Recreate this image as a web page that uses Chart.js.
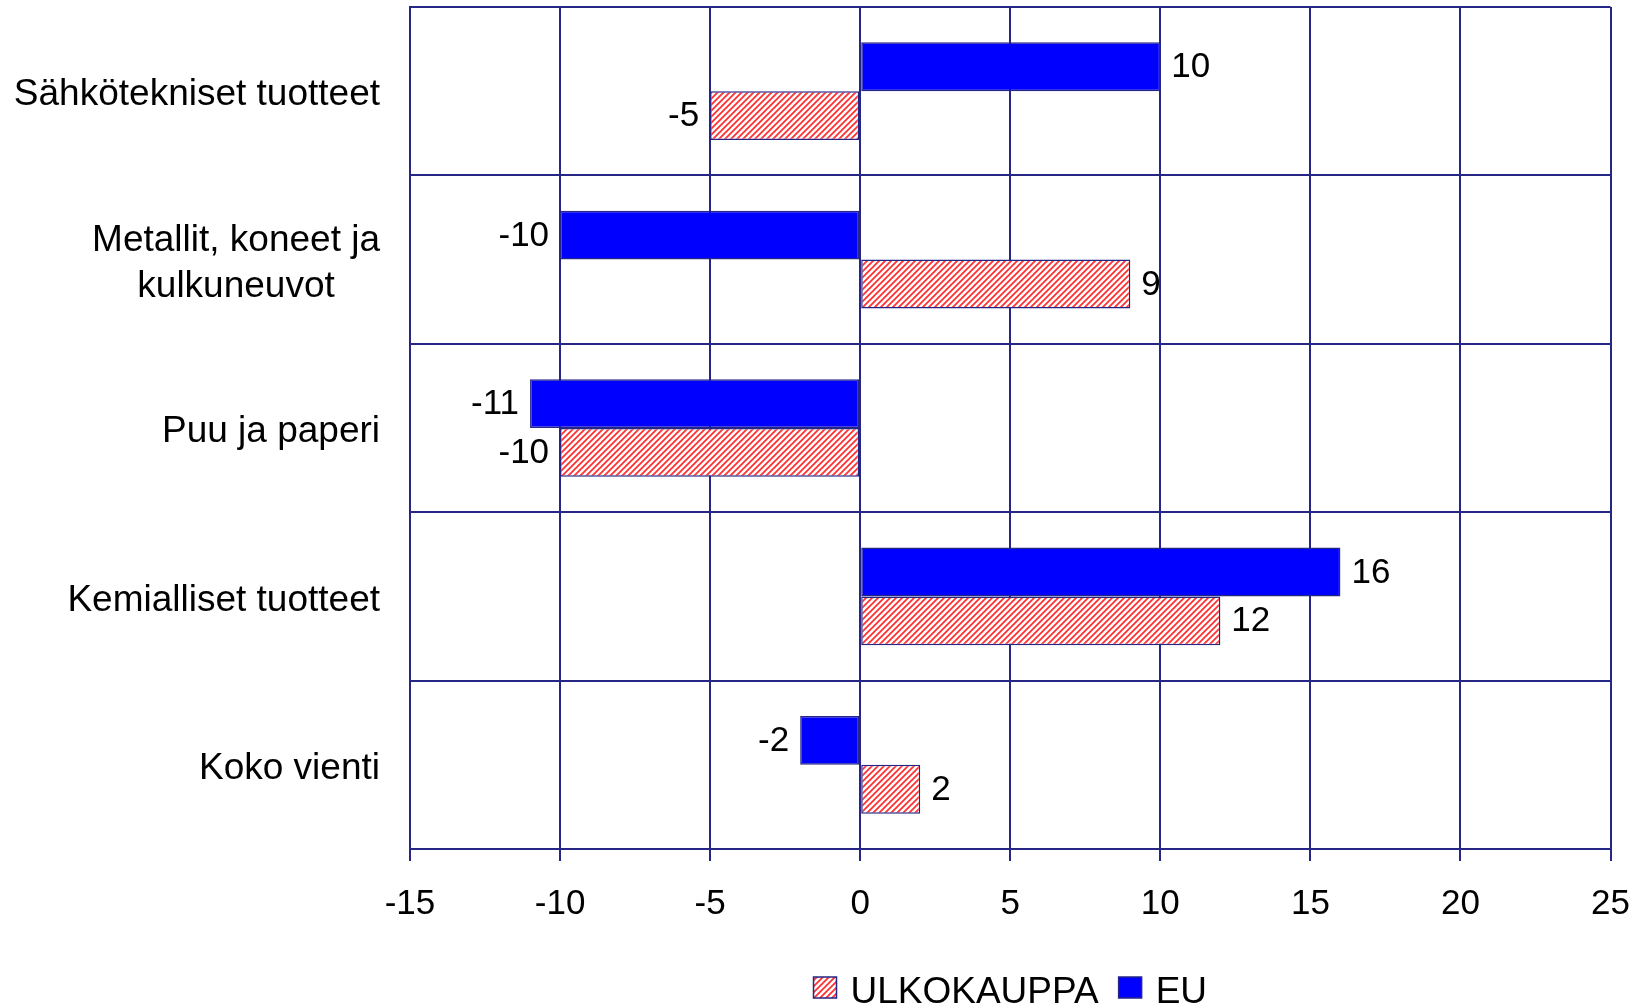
<!DOCTYPE html>
<html><head><meta charset="utf-8">
<script src="https://cdn.jsdelivr.net/npm/chart.js@4.4.1/dist/chart.umd.min.js"></script>
<style>html,body{margin:0;padding:0;background:#fff;overflow:hidden}#wrap{width:1652px;height:1004px}</style>
</head><body><div id="wrap"><canvas id="c" width="1652" height="1004"></canvas></div>
<script>
const categories = [
  'Sähkötekniset tuotteet',
  ['Metallit, koneet ja', 'kulkuneuvot'],
  'Puu ja paperi',
  'Kemialliset tuotteet',
  'Koko vienti'
];
const euValues = [10, -10, -11, 16, -2];
const ulkoValues = [-5, 9, -10, 12, 2];
const xTickValues = [-15, -10, -5, 0, 5, 10, 15, 20, 25];
const seriesNames = ['ULKOKAUPPA', 'EU'];

const FONT = '"Liberation Sans", Arial, sans-serif';
const NAVY = '#262686';
const EU_BLUE = '#0000ff';

const canvas = document.getElementById('c');
const ctx = canvas.getContext('2d');

function makeHatch() {
  const s = 6;
  const c = document.createElement('canvas');
  c.width = s; c.height = s;
  const g = c.getContext('2d');
  g.fillStyle = '#ffffff';
  g.fillRect(0, 0, s, s);
  g.strokeStyle = '#ff3030';
  g.lineWidth = 1.8;
  g.beginPath();
  g.moveTo(0, s); g.lineTo(s, 0);
  g.moveTo(-s / 2, s / 2); g.lineTo(s / 2, -s / 2);
  g.moveTo(s / 2, s * 1.5); g.lineTo(s * 1.5, s / 2);
  g.stroke();
  return ctx.createPattern(c, 'repeat');
}
const hatch = makeHatch();

const labelsPlugin = {
  id: 'customLabels',
  afterDatasetsDraw(chart) {
    const c = chart.ctx;
    c.save();
    // value labels
    c.font = '35px ' + FONT;
    c.fillStyle = '#000';
    c.textBaseline = 'middle';
    chart.data.datasets.forEach((ds, di) => {
      const meta = chart.getDatasetMeta(di);
      meta.data.forEach((bar, i) => {
        const v = ds.data[i];
        if (v >= 0) {
          c.textAlign = 'left';
          c.fillText(String(v), bar.x + 11, bar.y + 1);
        } else {
          c.textAlign = 'right';
          c.fillText(String(v), bar.x - 11, bar.y + 1);
        }
      });
    });
    // category labels
    const ys = chart.scales.y;
    c.font = '37px ' + FONT;
    c.textAlign = 'center';
    const rightEdge = 380;
    const lh = 46;
    categories.forEach((lab, i) => {
      const lines = Array.isArray(lab) ? lab : [lab];
      const yc = ys.getPixelForTick(i) + 4;
      const maxW = Math.max(...lines.map(l => c.measureText(l).width));
      const cx = rightEdge - maxW / 2;
      lines.forEach((l, k) => {
        const y = yc + (k - (lines.length - 1) / 2) * lh;
        c.fillText(l, cx, y);
      });
    });
    // legend
    const fills = [hatch, EU_BLUE];
    const ca = chart.chartArea;
    c.font = '37px ' + FONT;
    const box = 23, gapBox = 14, gapItem = 20;
    const widths = seriesNames.map(n => c.measureText(n).width);
    let total = 0;
    widths.forEach((w, i) => { total += box + gapBox + w + (i < widths.length - 1 ? gapItem : 0); });
    let x = (ca.left + ca.right) / 2 - total / 2;
    const boxTop = 977;
    c.textAlign = 'left';
    c.textBaseline = 'alphabetic';
    seriesNames.forEach((n, i) => {
      c.fillStyle = fills[i];
      c.fillRect(x, boxTop, box, 21);
      c.strokeStyle = NAVY;
      c.lineWidth = 1.5;
      c.strokeRect(x, boxTop, box, 21);
      c.fillStyle = '#000';
      c.fillText(n, x + box + gapBox, 1003);
      x += box + gapBox + widths[i] + gapItem;
    });
    c.restore();
  }
};

new Chart(ctx, {
  type: 'bar',
  data: {
    labels: categories,
    datasets: [
      { label: seriesNames[1], data: euValues, backgroundColor: EU_BLUE, borderColor: NAVY, borderWidth: 1.5, borderSkipped: false },
      { label: seriesNames[0], data: ulkoValues, backgroundColor: hatch, borderColor: NAVY, borderWidth: 1.5, borderSkipped: false }
    ]
  },
  options: {
    indexAxis: 'y',
    responsive: false,
    animation: false,
    devicePixelRatio: 1,
    layout: { padding: { left: 0, right: 31, top: 7, bottom: 0 } },
    datasets: { bar: { categoryPercentage: 0.58, barPercentage: 1.0 } },
    plugins: { legend: { display: false }, tooltip: { enabled: false } },
    scales: {
      x: {
        type: 'linear',
        min: -15, max: 25,
        afterBuildTicks: (s) => { s.ticks = xTickValues.map(v => ({ value: v })); },
        afterFit: (s) => { s.height = 155; },
        grid: { color: NAVY, lineWidth: 2, drawTicks: true, tickLength: 12, tickColor: NAVY, tickWidth: 2 },
        border: { color: NAVY, width: 2 },
        ticks: { color: '#000', font: { family: FONT, size: 35 }, padding: 22, maxRotation: 0, autoSkip: false }
      },
      y: {
        type: 'category',
        afterFit: (s) => { s.width = 410; },
        grid: { color: NAVY, lineWidth: 2, drawTicks: false, offset: true },
        border: { color: NAVY, width: 2 },
        ticks: { display: false }
      }
    }
  },
  plugins: [labelsPlugin]
});
</script>
</body></html>
